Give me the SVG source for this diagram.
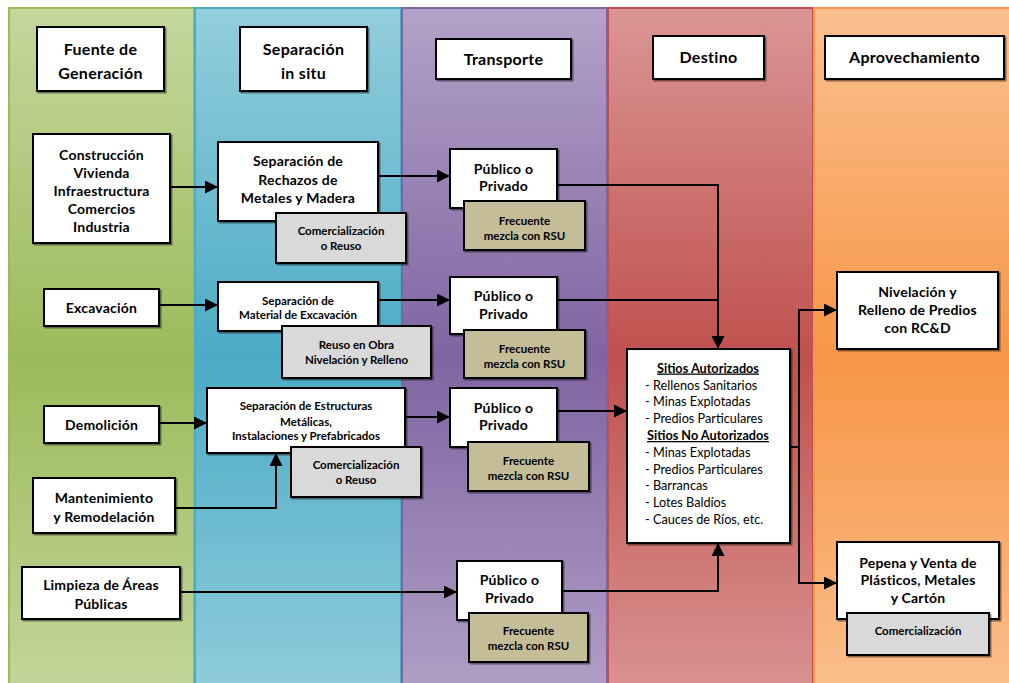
<svg xmlns="http://www.w3.org/2000/svg" width="1009" height="683" viewBox="0 0 1009 683">
  <defs>
    <linearGradient id="gGreen" x1="0" y1="0" x2="0" y2="1">
      <stop offset="0" stop-color="#c4d79d"/>
      <stop offset="0.5" stop-color="#9cbb5a"/>
      <stop offset="1" stop-color="#c4d79d"/>
    </linearGradient>
    <linearGradient id="gBlue" x1="0" y1="0" x2="0" y2="1">
      <stop offset="0" stop-color="#93cedc"/>
      <stop offset="0.5" stop-color="#4babc6"/>
      <stop offset="1" stop-color="#93cedc"/>
    </linearGradient>
    <linearGradient id="gPurple" x1="0" y1="0" x2="0" y2="1">
      <stop offset="0" stop-color="#b3a2c8"/>
      <stop offset="0.5" stop-color="#8064a2"/>
      <stop offset="1" stop-color="#b3a2c8"/>
    </linearGradient>
    <linearGradient id="gRed" x1="0" y1="0" x2="0" y2="1">
      <stop offset="0" stop-color="#da9694"/>
      <stop offset="0.5" stop-color="#c0504d"/>
      <stop offset="1" stop-color="#da9694"/>
    </linearGradient>
    <linearGradient id="gOrange" x1="0" y1="0" x2="0" y2="1">
      <stop offset="0" stop-color="#fac090"/>
      <stop offset="0.5" stop-color="#f79646"/>
      <stop offset="1" stop-color="#fac090"/>
    </linearGradient>
    <filter id="shadow" x="-10%" y="-10%" width="130%" height="130%">
      <feDropShadow dx="1.5" dy="1.5" stdDeviation="0.7" flood-color="#000" flood-opacity="0.45"/>
    </filter>
    <marker id="arrow" markerUnits="userSpaceOnUse" markerWidth="14" markerHeight="14" refX="13" refY="6.5" orient="auto">
      <path d="M0,0 L13,6.5 L0,13 Z" fill="#000"/>
    </marker>
  </defs>
  <style>
    .box { fill: #ffffff; stroke: #000; stroke-width: 2; filter: url(#shadow); }
    .gray { fill: #d9d9d9; stroke: #000; stroke-width: 2; filter: url(#shadow); }
    .khaki { fill: #c4bd97; stroke: #000; stroke-width: 2; filter: url(#shadow); }
    text { font-family: Lato, "Liberation Sans", sans-serif; fill: #000; text-anchor: middle; }
    .h { font-size: 16px; font-weight: bold; letter-spacing: 0.3px; }
    .b { font-size: 14px; font-weight: bold; letter-spacing: 0.2px; }
    .s { font-size: 11.5px; font-weight: bold; }
    .l { font-size: 12.7px; text-anchor: start; }
    .u { font-size: 12.7px; font-weight: bold; text-decoration: underline; }
    .link { fill: none; stroke: #000; stroke-width: 2; }
    .arr { marker-end: url(#arrow); }
  </style>

  <!-- swimlane columns -->
  <g id="lanes">
    <rect x="9" y="8" width="185" height="700" fill="url(#gGreen)" stroke="#9bbb59" stroke-width="2"/>
    <rect x="195" y="8" width="206" height="700" fill="url(#gBlue)" stroke="#4bacc6" stroke-width="2"/>
    <rect x="402" y="8" width="205" height="700" fill="url(#gPurple)" stroke="#8064a2" stroke-width="2"/>
    <rect x="608" y="8" width="205" height="700" fill="url(#gRed)" stroke="#c0504d" stroke-width="2"/>
    <rect x="814" y="8" width="205" height="700" fill="url(#gOrange)" stroke="#f79646" stroke-width="2"/>
  </g>

  <!-- column headers -->
  <g id="hdr-fuente">
    <rect class="box" x="37" y="27" width="127" height="64"/>
    <text class="h" x="100.5" y="55">Fuente de</text>
    <text class="h" x="100.5" y="79">Generación</text>
  </g>
  <g id="hdr-separacion">
    <rect class="box" x="240" y="27" width="127" height="64"/>
    <text class="h" x="303.5" y="55">Separación</text>
    <text class="h" x="303.5" y="79">in situ</text>
  </g>
  <g id="hdr-transporte">
    <rect class="box" x="436" y="39" width="135" height="40"/>
    <text class="h" x="503.5" y="65">Transporte</text>
  </g>
  <g id="hdr-destino">
    <rect class="box" x="653" y="36" width="111" height="43"/>
    <text class="h" x="708.5" y="63">Destino</text>
  </g>
  <g id="hdr-aprovechamiento">
    <rect class="box" x="825" y="36" width="179" height="43"/>
    <text class="h" x="914.5" y="63">Aprovechamiento</text>
  </g>

  <!-- connectors -->
  <g id="connectors">
    <path class="link arr" d="M170,187 H218"/>
    <path class="link arr" d="M378,176 H450"/>
    <path class="link arr" d="M557,185 H718 V349"/>
    <path class="link arr" d="M159,305 H218"/>
    <path class="link arr" d="M378,300 H450"/>
    <path class="link" d="M557,300 H718"/>
    <path class="link arr" d="M159,423 H207"/>
    <path class="link arr" d="M405,417 H450"/>
    <path class="link arr" d="M557,411 H627"/>
    <path class="link arr" d="M175,508 H276 V453"/>
    <path class="link arr" d="M180,592 H457"/>
    <path class="link arr" d="M562,591 H718 V543"/>
    <path class="link arr" d="M790,447 H799 V310 H837"/>
    <path class="link arr" d="M799,447 V583 H837"/>
  </g>

  <!-- sources -->
  <g id="construccion">
    <rect class="box" x="33" y="134" width="137" height="109"/>
    <text class="b" x="101.5" y="159.5">Construcción</text>
    <text class="b" x="101.5" y="177.5">Vivienda</text>
    <text class="b" x="101.5" y="195.5">Infraestructura</text>
    <text class="b" x="101.5" y="213.5">Comercios</text>
    <text class="b" x="101.5" y="231.5">Industria</text>
  </g>
  <g id="excavacion">
    <rect class="box" x="44" y="289" width="115" height="37"/>
    <text class="b" x="101.5" y="312.5">Excavación</text>
  </g>
  <g id="demolicion">
    <rect class="box" x="44" y="406" width="115" height="37"/>
    <text class="b" x="101.5" y="429.5">Demolición</text>
  </g>
  <g id="mantenimiento">
    <rect class="box" x="33" y="478" width="142" height="55"/>
    <text class="b" x="104" y="503">Mantenimiento</text>
    <text class="b" x="104" y="521.5">y Remodelación</text>
  </g>
  <g id="limpieza">
    <rect class="box" x="22" y="567" width="158" height="52"/>
    <text class="b" x="101" y="590">Limpieza de Áreas</text>
    <text class="b" x="101" y="608.5">Públicas</text>
  </g>

  <!-- on-site separation -->
  <g id="sep-rechazos">
    <rect class="box" x="218" y="142" width="160" height="79"/>
    <text class="b" x="298" y="166">Separación de</text>
    <text class="b" x="298" y="184.5">Rechazos de</text>
    <text class="b" x="298" y="202.5">Metales y Madera</text>
  </g>
  <g id="com-reuso-1">
    <rect class="gray" x="276" y="213" width="130" height="50"/>
    <text class="s" x="341" y="235">Comercialización</text>
    <text class="s" x="341" y="250">o Reuso</text>
  </g>
  <g id="sep-excavacion">
    <rect class="box" x="218" y="282" width="160" height="49"/>
    <text class="s" x="298" y="304.5">Separación de</text>
    <text class="s" x="298" y="319">Material de Excavación</text>
  </g>
  <g id="reuso-obra">
    <rect class="gray" x="282" y="326" width="149" height="52"/>
    <text class="s" x="356.5" y="349">Reuso en Obra</text>
    <text class="s" x="356.5" y="363.5">Nivelación y Relleno</text>
  </g>
  <g id="sep-estructuras">
    <rect class="box" x="207" y="388" width="198" height="65"/>
    <text class="s" x="306" y="410">Separación de Estructuras</text>
    <text class="s" x="306" y="425.5">Metálicas,</text>
    <text class="s" x="306" y="440">Instalaciones y Prefabricados</text>
  </g>
  <g id="com-reuso-2">
    <rect class="gray" x="291" y="447" width="130" height="50"/>
    <text class="s" x="356" y="469">Comercialización</text>
    <text class="s" x="356" y="484">o Reuso</text>
  </g>

  <!-- transport -->
  <g id="transporte-1">
    <rect class="box" x="450" y="149" width="107" height="59"/>
    <text class="b" x="503.5" y="173.5">Público o</text>
    <text class="b" x="503.5" y="191">Privado</text>
  </g>
  <g id="mezcla-1">
    <rect class="khaki" x="464" y="201" width="121" height="49"/>
    <text class="s" x="524.5" y="225">Frecuente</text>
    <text class="s" x="524.5" y="239.5">mezcla con RSU</text>
  </g>
  <g id="transporte-2">
    <rect class="box" x="450" y="277" width="107" height="57"/>
    <text class="b" x="503.5" y="300.5">Público o</text>
    <text class="b" x="503.5" y="318.5">Privado</text>
  </g>
  <g id="mezcla-2">
    <rect class="khaki" x="464" y="330" width="121" height="48"/>
    <text class="s" x="524.5" y="353">Frecuente</text>
    <text class="s" x="524.5" y="367.5">mezcla con RSU</text>
  </g>
  <g id="transporte-3">
    <rect class="box" x="450" y="388" width="107" height="59"/>
    <text class="b" x="503.5" y="412.5">Público o</text>
    <text class="b" x="503.5" y="430">Privado</text>
  </g>
  <g id="mezcla-3">
    <rect class="khaki" x="468" y="442" width="121" height="49"/>
    <text class="s" x="528.5" y="465">Frecuente</text>
    <text class="s" x="528.5" y="480">mezcla con RSU</text>
  </g>
  <g id="transporte-4">
    <rect class="box" x="457" y="561" width="105" height="59"/>
    <text class="b" x="509.5" y="585">Público o</text>
    <text class="b" x="509.5" y="602.5">Privado</text>
  </g>
  <g id="mezcla-4">
    <rect class="khaki" x="469" y="613" width="119" height="49"/>
    <text class="s" x="528.5" y="635">Frecuente</text>
    <text class="s" x="528.5" y="650">mezcla con RSU</text>
  </g>

  <!-- destination -->
  <g id="sitios">
    <rect class="box" x="627" y="349" width="163" height="194"/>
    <text class="u" x="708" y="372.5">Sitios Autorizados</text>
    <text class="l" x="645" y="389.5">- Rellenos Sanitarios</text>
    <text class="l" x="645" y="406">- Minas Explotadas</text>
    <text class="l" x="645" y="423">- Predios Particulares</text>
    <text class="u" x="708" y="440">Sitios No Autorizados</text>
    <text class="l" x="645" y="456.5">- Minas Explotadas</text>
    <text class="l" x="645" y="473.5">- Predios Particulares</text>
    <text class="l" x="645" y="490">- Barrancas</text>
    <text class="l" x="645" y="507">- Lotes Baldíos</text>
    <text class="l" x="645" y="523.5">- Cauces de Ríos, etc.</text>
  </g>

  <!-- reuse -->
  <g id="nivelacion">
    <rect class="box" x="837" y="272" width="161" height="77"/>
    <text class="b" x="917.5" y="297">Nivelación y</text>
    <text class="b" x="917.5" y="315">Relleno de Predios</text>
    <text class="b" x="917.5" y="333">con RC&amp;D</text>
  </g>
  <g id="pepena">
    <rect class="box" x="837" y="542" width="162" height="77"/>
    <text class="b" x="918" y="567.5">Pepena y Venta de</text>
    <text class="b" x="918" y="585">Plásticos, Metales</text>
    <text class="b" x="918" y="603">y Cartón</text>
  </g>
  <g id="com-3">
    <rect class="gray" x="847" y="613" width="142" height="42"/>
    <text class="s" x="918" y="634.5">Comercialización</text>
  </g>
</svg>
